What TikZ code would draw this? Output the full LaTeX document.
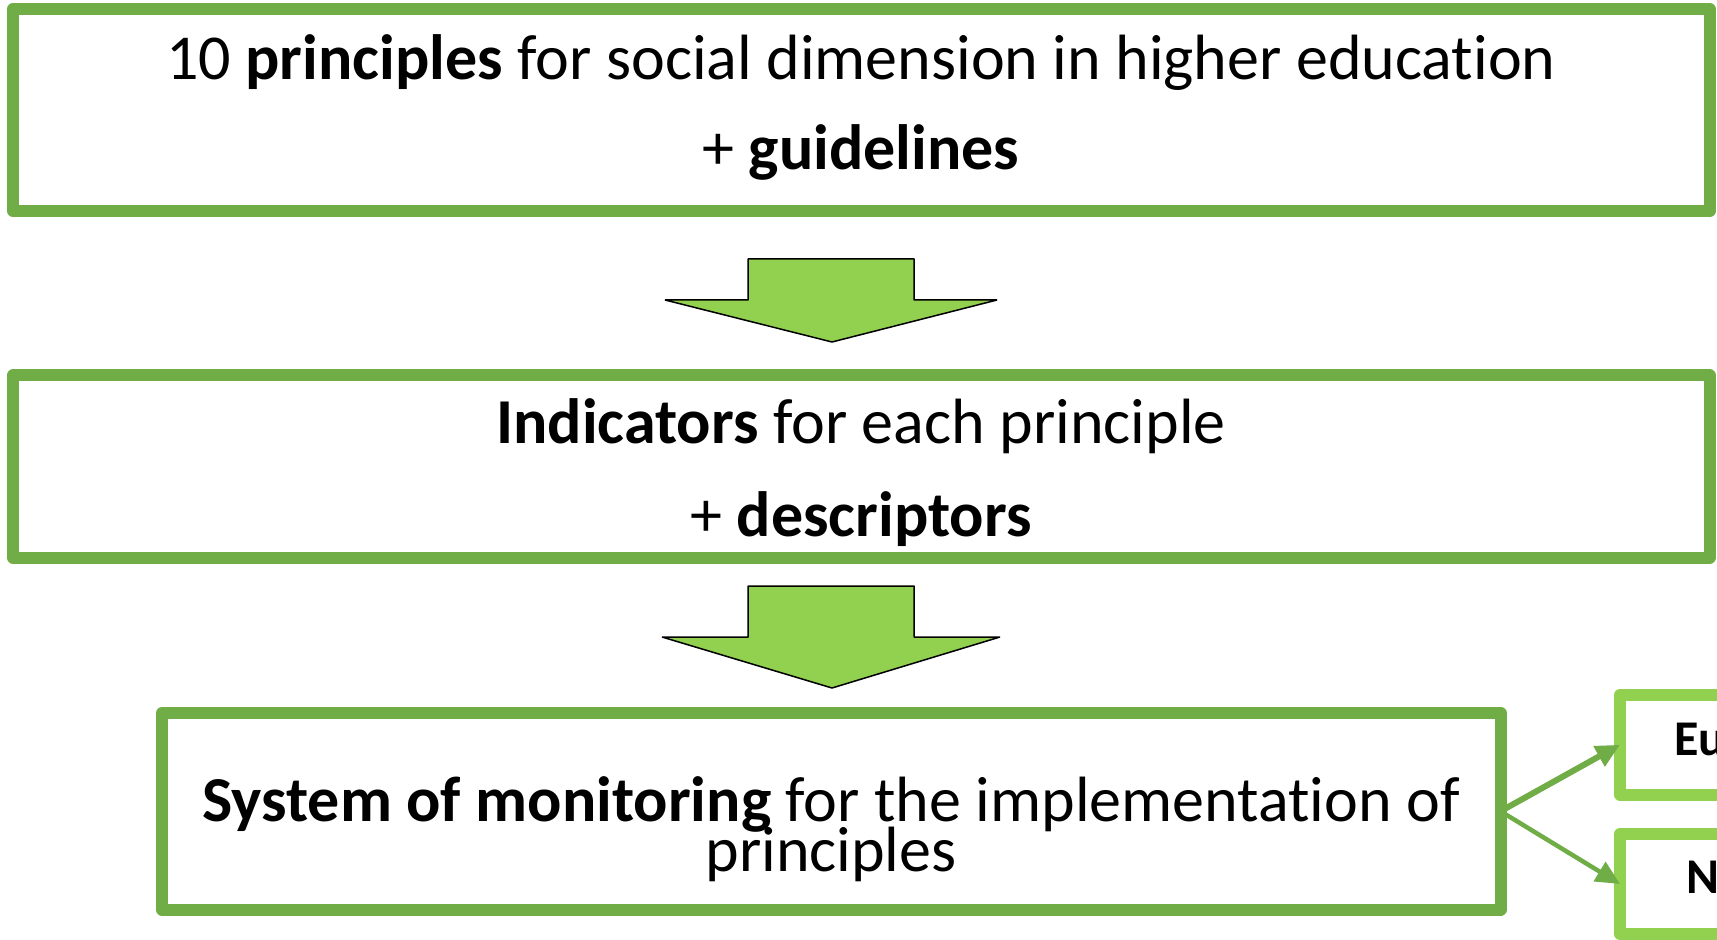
\documentclass[tikz,border=0pt]{standalone}
\usepackage{fontspec}
\setmainfont{Carlito}[Ligatures=NoCommon]
\usetikzlibrary{arrows.meta}
\definecolor{dkgreen}{HTML}{70AD47}
\definecolor{ltgreen}{HTML}{92D050}
\begin{document}
\begin{tikzpicture}[x=0.5pt,y=-0.5pt,
  box/.style={draw=dkgreen, line width=6pt, line join=round, fill=white, inner sep=0pt, outer sep=0pt},
  subbox/.style={box, draw=ltgreen, anchor=west},
  txt/.style={anchor=base, inner sep=0pt, font=\fontsize{32}{38}\selectfont},
  subtxt/.style={anchor=base west, inner sep=0pt, font=\fontsize{25}{30}\selectfont\bfseries},
  blockarrow/.style={fill=ltgreen, draw=black, line width=0.75pt, line join=bevel},
  conn/.style={draw=dkgreen, -{Triangle[length=12pt,width=11pt]}}]
\useasboundingbox (0,0) rectangle (1717,940);
\clip (0,0) rectangle (1717,940);
% main boxes
\node[box, minimum width=848.25pt, minimum height=101pt] (top) at (861.25,110) {};
\node[box, minimum width=848.25pt, minimum height=91pt] (mid) at (861.25,466.5) {};
\node[box, minimum width=669.25pt, minimum height=98.25pt] (bot) at (831.25,811.25) {};
% side boxes
\node[subbox, minimum width=200pt, minimum height=49.75pt] (eu) at (1620,744.75) {};
\node[subbox, minimum width=200pt, minimum height=50pt] (nat) at (1620,884) {};
% texts
\node[txt] (t1) at (861,80) {10 \textbf{principles} for social dimension in higher education};
\node[txt] (t2) at (861,170) {+ \textbf{guidelines}};
\node[txt] (m1) at (861,443.5) {\textbf{Indicators} for each principle};
\node[txt] (m2) at (861,536.5) {+ \textbf{descriptors}};
\node[txt] (b1) at (831,821) {\textbf{System of monitoring} for the implementation of};
\node[txt] (b2) at (831,871) {principles};
\node[subtxt] (eut) at (1674,755) {Eu};
\node[subtxt] (natt) at (1686,893) {N};
% block arrows
\draw[blockarrow] (748,259) -- (914,259) -- (914,300) -- (997,300) -- (832,342) -- (665,300) -- (748,300) -- cycle;
\draw[blockarrow] (748,586) -- (914,586) -- (914,637) -- (1000,637) -- (832,688) -- (662,637) -- (748,637) -- cycle;
% connectors
\draw[conn, line width=3pt] (bot.east) -- (eu.west);
\draw[conn, line width=2.25pt] (bot.east) -- (nat.west);
\end{tikzpicture}
\end{document}
